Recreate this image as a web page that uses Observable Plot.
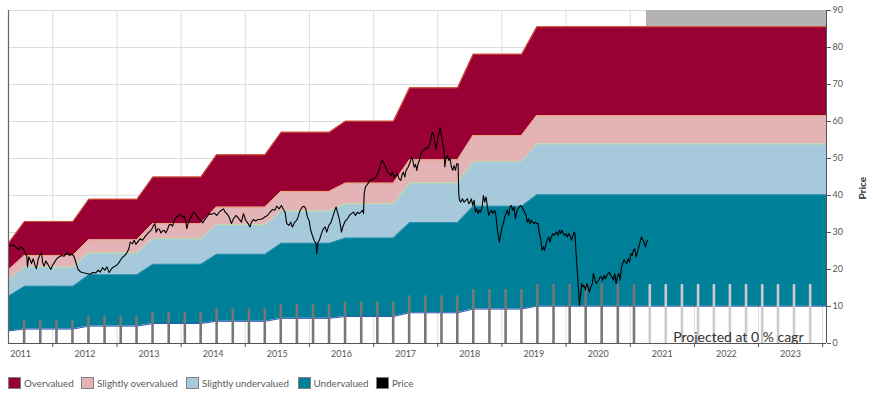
<!DOCTYPE html>
<html><head><meta charset="utf-8">
<script src="https://cdn.jsdelivr.net/npm/d3@7"></script>
<script src="https://cdn.jsdelivr.net/npm/@observablehq/plot@0.6"></script>
<style>
body{margin:0;background:#fff;font-family:Lato,"Open Sans",sans-serif;}
#wrap{position:relative;width:873px;height:395px;}
#chart svg{display:block;}
.item{position:absolute;top:377px;display:flex;align-items:center;white-space:nowrap;font-size:9.8px;color:#5a5a5a;}
.sw{width:11px;height:10px;border:1.5px solid #808080;margin-right:3px;box-sizing:content-box;}
</style></head><body><div id="wrap"><div id="chart"></div></div>
<script>
// ---------- data ----------
const xStartDate = "2011-04-24";
const xEndDate = "2024-01-23";
const projectionStartDate = "2021-04-04";
const projectionLabel = "Projected at 0 % cagr";

// annual valuation bands: level before first ramp, then level after each ramp
const rampStartDates = ["2011-04-24","2012-04-26","2013-04-25","2014-04-24","2015-04-24","2016-04-24","2017-04-24","2018-04-24","2019-04-24"];
const rampEndDates   = ["2011-07-25","2012-07-25","2013-07-25","2014-07-22","2015-07-25","2016-07-25","2017-07-25","2018-07-22","2019-07-20"];
const topLevels    = [27.1, 33.0, 39.0, 45.0, 51.0, 57.1, 60.1, 69.1, 78.2, 85.6];
const overLevels   = [19.8, 23.8, 28.0, 32.4, 36.8, 41.1, 43.3, 49.6, 56.2, 61.6];
const midLevels    = [17.3, 20.7, 24.5, 28.4, 32.1, 35.8, 37.8, 43.4, 49.2, 53.9];
const underLevels  = [12.8, 15.5, 18.6, 21.4, 24.1, 27.1, 28.5, 32.7, 37.1, 40.2];
const bottomLevels = [3.4, 3.9, 4.7, 5.4, 6.0, 6.8, 7.3, 8.3, 9.3, 10.1];

// quarterly bars
const barDates = ["2011-07-22","2011-10-22","2012-01-22","2012-04-22","2012-07-22","2012-10-22","2013-01-22","2013-04-22",
"2013-07-22","2013-10-22","2014-01-22","2014-04-22","2014-07-22","2014-10-22","2015-01-22","2015-04-22",
"2015-07-22","2015-10-22","2016-01-22","2016-04-22","2016-07-22","2016-10-22","2017-01-22","2017-04-22",
"2017-07-22","2017-10-22","2018-01-22","2018-04-22","2018-07-22","2018-10-22","2019-01-22","2019-04-22",
"2019-07-22","2019-10-22","2020-01-22","2020-04-22","2020-07-22","2020-10-22","2021-01-22",
"2021-04-22","2021-07-22","2021-10-22","2022-01-22","2022-04-22","2022-07-22","2022-10-22","2023-01-22","2023-04-22","2023-07-22","2023-10-22"];
const barValues = [6.3,6.3,6.3,6.3, 7.4,7.4,7.4,7.4, 8.4,8.4,8.4,8.4, 9.4,9.4,9.4,9.4, 10.5,10.5,10.5,10.5,
11.2,11.2,11.2,11.2, 12.9,12.9,12.9,12.9, 14.6,14.6,14.6,14.6, 16.0,16.0,16.0,16.0,16.0,16.0,16.0,
15.9,15.9,15.9,15.9,15.9,15.9,15.9,15.9,15.9,15.9,15.9];

// price (decimal year, value)
const priceYears = [2011.314,2011.371,2011.423,2011.460,2011.501,2011.538,2011.569,2011.595,2011.605,2011.626,2011.647,2011.668,2011.694,2011.725,2011.745,2011.771,2011.803,2011.823,2011.844,2011.865,2011.891,2011.917,2011.948,2011.969,2011.995,
2012.021,2012.062,2012.099,2012.135,2012.177,2012.208,2012.229,2012.260,2012.291,2012.322,2012.343,2012.369,2012.395,2012.436,2012.478,2012.530,2012.582,2012.623,2012.670,2012.706,2012.738,2012.774,2012.810,2012.842,2012.878,2012.914,2012.945,2012.982,
2013.018,2013.060,2013.091,2013.122,2013.153,2013.184,2013.205,2013.242,2013.268,2013.294,2013.319,2013.361,2013.397,2013.434,2013.475,2013.512,2013.538,2013.569,2013.590,2013.610,2013.636,2013.662,2013.683,2013.709,2013.735,2013.761,2013.787,2013.813,2013.839,2013.865,2013.891,2013.927,2013.969,2013.995,
2014.021,2014.047,2014.073,2014.088,2014.109,2014.135,2014.161,2014.192,2014.223,2014.255,2014.281,2014.306,2014.338,2014.369,2014.400,2014.436,2014.473,2014.514,2014.556,2014.592,2014.629,2014.660,2014.686,2014.712,2014.748,2014.784,2014.816,2014.852,2014.878,2014.919,2014.940,2014.971,
2015.008,2015.044,2015.075,2015.096,2015.127,2015.164,2015.190,2015.231,2015.268,2015.304,2015.345,2015.387,2015.423,2015.460,2015.491,2015.527,2015.564,2015.595,2015.621,2015.647,2015.683,2015.709,2015.735,2015.771,2015.803,2015.823,2015.855,2015.891,2015.917,2015.943,2015.969,2015.995,
2016.021,2016.047,2016.073,2016.104,2016.114,2016.135,2016.156,2016.187,2016.218,2016.244,2016.270,2016.301,2016.332,2016.364,2016.395,2016.416,2016.436,2016.457,2016.478,2016.499,2016.519,2016.540,2016.566,2016.592,2016.623,2016.654,2016.686,2016.717,2016.748,2016.774,2016.800,2016.826,2016.842,2016.852,2016.873,2016.904,2016.935,2016.966,2016.997,
2017.029,2017.060,2017.091,2017.112,2017.132,2017.153,2017.184,2017.216,2017.247,2017.268,2017.294,2017.320,2017.346,2017.371,2017.397,2017.423,2017.444,2017.465,2017.486,2017.506,2017.538,2017.569,2017.590,2017.610,2017.631,2017.652,2017.673,2017.693,2017.714,2017.735,2017.761,2017.787,2017.813,2017.839,2017.865,2017.891,2017.906,2017.922,2017.943,2017.958,2017.974,2017.995,
2018.021,2018.036,2018.057,2018.078,2018.099,2018.109,2018.130,2018.151,2018.171,2018.192,2018.213,2018.234,2018.254,2018.275,2018.296,2018.317,2018.327,2018.338,2018.358,2018.384,2018.410,2018.436,2018.462,2018.483,2018.504,2018.525,2018.545,2018.566,2018.587,2018.608,2018.629,2018.649,2018.670,2018.691,2018.712,2018.732,2018.753,2018.774,2018.795,2018.816,2018.836,2018.857,2018.888,2018.909,2018.930,2018.961,2018.982,
2019.003,2019.023,2019.044,2019.065,2019.086,2019.107,2019.127,2019.148,2019.169,2019.190,2019.210,2019.231,2019.252,2019.273,2019.294,2019.314,2019.335,2019.356,2019.377,2019.397,2019.418,2019.439,2019.460,2019.480,2019.501,2019.522,2019.543,2019.564,2019.584,2019.605,2019.626,2019.647,2019.667,2019.688,2019.709,2019.730,2019.751,2019.771,2019.792,2019.813,2019.834,2019.854,2019.875,2019.896,2019.917,2019.937,2019.958,2019.979,
2020.000,2020.021,2020.042,2020.062,2020.083,2020.104,2020.125,2020.140,2020.151,2020.161,2020.177,2020.192,2020.208,2020.229,2020.244,2020.260,2020.281,2020.302,2020.322,2020.343,2020.364,2020.385,2020.410,2020.426,2020.447,2020.468,2020.488,2020.509,2020.530,2020.551,2020.571,2020.592,2020.613,2020.634,2020.654,2020.675,2020.696,2020.717,2020.738,2020.758,2020.779,2020.800,2020.821,2020.842,2020.862,2020.883,2020.904,2020.925,2020.945,2020.966,2020.987,
2021.008,2021.029,2021.049,2021.070,2021.091,2021.112,2021.132,2021.153,2021.174,2021.195,2021.216,2021.236,2021.257,2021.268];
const priceValues = [26.3,26.7,26.1,25.4,26.1,25.7,24.5,23.6,20.7,23.4,22.7,21.6,22.9,21.1,20.2,22.7,24.1,24.5,21.8,20.9,22.3,21.6,20.7,20.0,21.1,
21.8,22.9,23.4,23.8,23.6,24.3,24.5,23.8,24.1,23.8,22.9,21.4,20.0,19.3,19.1,18.9,18.7,19.2,19.1,19.8,19.3,20.5,19.8,20.7,19.2,20.2,20.7,21.0,
21.6,22.7,23.4,23.8,24.5,25.6,27.4,27.0,27.9,26.8,27.4,28.3,27.9,28.8,29.7,30.3,30.8,31.9,32.4,30.1,31.0,30.8,29.9,30.4,30.6,29.9,30.8,32.1,32.2,31.7,33.1,34.2,34.6,34.9,
34.2,34.4,32.8,31.0,32.6,33.5,34.4,35.5,35.1,34.2,33.5,33.3,32.6,33.5,34.2,35.1,34.9,35.3,34.6,35.5,36.0,36.4,35.5,35.1,34.2,32.4,33.7,34.6,34.2,33.3,32.8,35.1,
33.3,32.4,31.5,32.8,33.5,33.1,33.5,33.5,33.7,34.2,34.6,35.5,36.2,36.0,37.1,36.4,37.3,36.2,35.5,32.4,31.9,32.8,31.5,32.8,33.3,34.2,36.0,36.9,37.1,36.4,34.2,33.3,
30.6,29.2,27.9,27.0,24.3,27.4,27.9,29.7,31.0,31.5,30.1,31.9,32.6,34.2,36.0,36.9,35.5,34.2,32.4,30.1,31.5,32.4,33.3,33.7,34.6,35.1,35.5,34.6,35.5,35.1,35.5,36.0,35.1,40.5,42.4,43.0,43.9,44.2,44.5,
44.8,45.9,47.2,48.6,49.5,49.0,47.8,46.3,45.9,45.4,46.3,45.0,45.4,45.9,44.5,44.1,45.7,46.3,45.0,46.8,47.7,49.0,50.4,49.6,47.7,48.4,46.8,48.6,49.6,51.3,52.0,52.3,52.9,52.6,53.5,54.9,56.7,57.1,55.8,54.0,52.6,54.9,
57.1,58.3,56.2,54.0,52.2,47.7,50.4,50.8,49.5,49.9,47.7,46.8,48.1,46.8,48.6,48.6,40.5,38.7,38.2,39.1,38.2,38.7,39.1,37.8,38.2,39.1,37.3,38.7,35.5,36.4,35.1,36.0,35.5,36.9,40.0,38.2,39.6,36.9,34.6,35.5,36.0,35.1,36.0,34.2,30.6,27.4,29.7,
31.5,32.4,34.2,35.1,36.0,34.6,36.9,37.3,36.0,36.9,33.7,35.5,36.4,36.9,37.3,36.9,36.0,35.5,34.6,32.8,33.7,32.4,33.3,32.8,32.4,32.8,32.4,32.4,29.7,28.3,25.2,26.1,25.2,27.0,27.9,28.8,27.4,28.8,29.7,29.2,29.7,30.1,29.2,30.6,29.7,30.6,29.7,29.2,
29.7,28.8,29.7,29.2,27.9,28.8,30.1,29.7,26.1,23.4,18.9,15.3,10.3,13.5,16.2,15.3,15.7,14.4,16.2,15.3,13.9,15.3,16.2,18.9,17.5,16.2,16.6,17.1,18.0,18.0,17.1,18.4,17.5,18.4,18.9,19.3,18.4,18.0,17.1,18.9,16.2,18.0,18.9,17.1,20.7,21.6,22.7,22.0,21.6,22.9,22.0,
24.3,23.8,25.2,25.6,23.4,24.7,26.1,27.4,28.8,27.9,27.4,26.1,27.4,27.9];

const yTicks = [0,10,20,30,40,50,60,70,80,90];
const yearLabels = ["2011","2012","2013","2014","2015","2016","2017","2018","2019","2020","2021","2022","2023"];
const legendLabels = ["Overvalued","Slightly overvalued","Slightly undervalued","Undervalued","Price"];

// ---------- styles ----------
const C = {over:"#990033", sover:"#e3b3b6", sunder:"#a6cadb", under:"#007f99", price:"#000000"};
const legendColors = [C.over, C.sover, C.sunder, C.under, C.price];
const legendLeft = [8, 81, 186, 297.5, 376];

// ---------- build tables ----------
const P = d3.utcParse("%Y-%m-%d");
const xStart = P(xStartDate), xEnd = P(xEndDate), projStart = P(projectionStartDate);
function decYear(y){const Y=Math.floor(y);const a=Date.UTC(Y,0,1),b=Date.UTC(Y+1,0,1);return new Date(a+(y-Y)*(b-a));}

const bandRows = [];
function addRow(date, i){bandRows.push({date, top:topLevels[i], over:overLevels[i], mid:midLevels[i], under:underLevels[i], bottom:bottomLevels[i]});}
rampStartDates.forEach((s,k)=>{ addRow(P(s), k); addRow(P(rampEndDates[k]), k+1); });
addRow(xEnd, topLevels.length-1);

const bars = barDates.map((d,i)=>({date:P(d), value:barValues[i], projected:P(d) > projStart}));
const price = priceYears.map((y,i)=>({date:decYear(y), value:priceValues[i]}));
const projection = [{x1:projStart, x2:xEnd, y1:topLevels[topLevels.length-1], y2:yTicks[yTicks.length-1]}];
const yearStarts = d3.range(2012, 2025).map(y=>new Date(Date.UTC(y,0,1)));
const yearMids = yearLabels.map(y=>new Date(Date.UTC(+y,6,2)));

const chart = Plot.plot({
  width: 873, height: 362,
  marginLeft: 8, marginRight: 47, marginTop: 10, marginBottom: 19,
  style: {fontFamily: "Lato, 'Open Sans', sans-serif", fontSize: "9px", color: "#555", background: "#fff", overflow: "visible"},
  x: {type: "utc", domain: [xStart, xEnd]},
  y: {domain: [0, 90]},
  marks: [
    Plot.gridY(yTicks, {stroke: "#dcdcdc", strokeOpacity: 1}),
    Plot.gridX(yearStarts, {stroke: "#dcdcdc", strokeOpacity: 1}),
    Plot.rect(projection, {x1:"x1", x2:"x2", y1:"y1", y2:"y2", fill:"#b3b3b3"}),
    Plot.areaY(bandRows, {x:"date", y1:"over", y2:"top", fill:C.over}),
    Plot.areaY(bandRows, {x:"date", y1:"mid", y2:"over", fill:C.sover}),
    Plot.areaY(bandRows, {x:"date", y1:"under", y2:"mid", fill:C.sunder}),
    Plot.areaY(bandRows, {x:"date", y1:"bottom", y2:"under", fill:C.under}),
    Plot.line(bandRows, {x:"date", y:"top", stroke:"#e8742e", strokeWidth:0.8}),
    Plot.line(bandRows, {x:"date", y:"over", stroke:"#f0a070", strokeWidth:0.8}),
    Plot.line(bandRows, {x:"date", y:"mid", stroke:"#c9dc8c", strokeWidth:0.8}),
    Plot.line(bandRows, {x:"date", y:"under", stroke:"#3f95b8", strokeWidth:0.8}),
    Plot.line(bandRows, {x:"date", y:"bottom", stroke:"#2a55b5", strokeWidth:1}),
    Plot.ruleX(bars, {x:"date", y1:0, y2:"value", stroke:d=>d.projected ? "#cccccc" : "#777777", strokeWidth:2.6}),
    Plot.line(price, {x:"date", y:"value", stroke:C.price, strokeWidth:1.1}),
    Plot.ruleX(projection, {x:"x1", y1:"y1", y2:"y2", stroke:"#d98a8a", strokeDasharray:"1.5,1.5"}),
    Plot.text([projectionLabel], {text:d=>d, frameAnchor:"bottom-right", dx:-23, dy:-2, lineAnchor:"bottom", fontSize:14, fill:"#333"}),
    Plot.axisY({anchor:"right", ticks:yTicks, tickSize:4, tickPadding:2, label:null, stroke:"#555"}),
    Plot.text(["Price"], {text:d=>d, frameAnchor:"right", dx:36, rotate:-90, fontWeight:"bold", fontSize:10, fill:"#333"}),
    Plot.axisX({ticks:yearStarts, tickFormat:()=>"", tickSize:4, label:null, stroke:"#555"}),
    Plot.axisX({ticks:yearMids, tickFormat:d3.utcFormat("%Y"), tickSize:0, tickPadding:7, label:null}),
    Plot.ruleX([xStart], {stroke:"#666", strokeWidth:1.2}),
    Plot.ruleX([xEnd], {stroke:"#555", strokeWidth:1}),
    Plot.ruleY([0], {stroke:"#555"})
  ]
});
document.getElementById("chart").appendChild(chart);

const wrap = document.getElementById("wrap");
legendLabels.forEach((t,i)=>{
  const it = document.createElement("div");
  it.className = "item";
  it.style.left = legendLeft[i] + "px";
  const sw = document.createElement("div");
  sw.className = "sw"; sw.style.background = legendColors[i];
  const tx = document.createElement("span"); tx.textContent = t;
  it.appendChild(sw); it.appendChild(tx);
  wrap.appendChild(it);
});
</script>
</body></html>
